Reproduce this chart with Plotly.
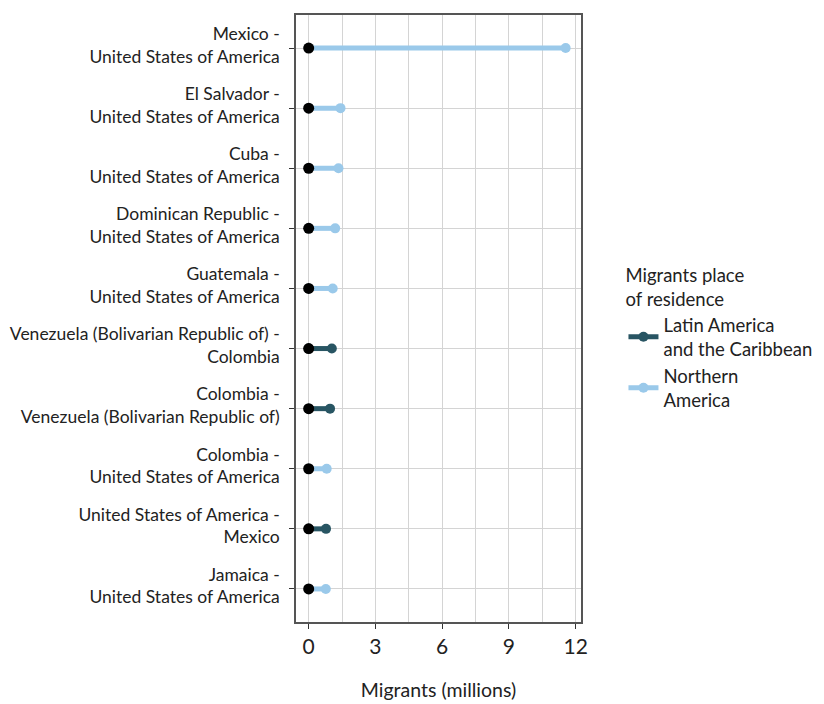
import plotly.graph_objects as go

corridors = [
    "Mexico -<br>United States of America",
    "El Salvador -<br>United States of America",
    "Cuba -<br>United States of America",
    "Dominican Republic -<br>United States of America",
    "Guatemala -<br>United States of America",
    "Venezuela (Bolivarian Republic of) -<br>Colombia",
    "Colombia -<br>Venezuela (Bolivarian Republic of)",
    "Colombia -<br>United States of America",
    "United States of America -<br>Mexico",
    "Jamaica -<br>United States of America",
]
migrants = [11.55, 1.43, 1.34, 1.19, 1.08, 1.04, 0.96, 0.81, 0.78, 0.77]
residence = [
    "Northern America", "Northern America", "Northern America", "Northern America",
    "Northern America", "Latin America and the Caribbean", "Latin America and the Caribbean",
    "Northern America", "Latin America and the Caribbean", "Northern America",
]
groups = ["Latin America and the Caribbean", "Northern America"]
group_labels = {"Latin America and the Caribbean": "Latin America<br>and the Caribbean",
                "Northern America": "Northern<br>America"}
colors = {"Latin America and the Caribbean": "#285563", "Northern America": "#9ac9ea"}

FONT = "Lato"
fig = go.Figure()
for g in groups:
    xs, ys = [], []
    for c, v, r in zip(corridors, migrants, residence):
        if r == g:
            xs += [0, v, None]
            ys += [c, c, None]
    fig.add_trace(go.Scatter(
        x=xs, y=ys, mode="lines+markers", name=group_labels[g],
        line=dict(color=colors[g], width=5),
        marker=dict(color=colors[g], size=10),
    ))

fig.add_trace(go.Scatter(
    x=[0] * len(corridors), y=corridors, mode="markers", showlegend=False,
    marker=dict(color="black", size=11),
))

fig.update_layout(
    width=816, height=696,
    margin=dict(l=288, r=243, t=7, b=82, autoexpand=False),
    paper_bgcolor="white", plot_bgcolor="white",
    font=dict(family=FONT, color="#222222", size=17),
    legend=dict(
        title=dict(text="Migrants place<br>of residence", font=dict(size=18.5, family=FONT)),
        font=dict(size=18.5, family=FONT),
        x=1.149, xanchor="left", y=0.467, yanchor="middle",
        tracegroupgap=2, itemwidth=30,
    ),
)
fig.update_xaxes(
    range=[-0.57, 12.24], tickvals=[0, 3, 6, 9, 12],
    showgrid=True, gridcolor="#d4d4d4", gridwidth=1,
    minor=dict(dtick=1.5, tick0=0, showgrid=True, gridcolor="#d4d4d4", gridwidth=1),
    showline=True, linecolor="#555555", linewidth=1.5, mirror=True,
    ticks="outside", ticklen=5, tickcolor="#333333",
    tickfont=dict(size=21, family=FONT, color="#222222"),
    zeroline=False,
    title=dict(text="Migrants (millions)", font=dict(size=19.5, family=FONT), standoff=26),
)
fig.update_yaxes(
    categoryorder="array", categoryarray=corridors, autorange=False,
    range=[9.55, -0.55],
    showgrid=True, gridcolor="#d4d4d4", gridwidth=1,
    showline=True, linecolor="#555555", linewidth=1.5, mirror=True,
    ticks="outside", ticklen=5, tickcolor="#333333",
    ticklabelstandoff=6, ticklabelshift=3,
    tickfont=dict(size=17.5, family=FONT, color="#222222"),
)

fig.write_html("out.html")
